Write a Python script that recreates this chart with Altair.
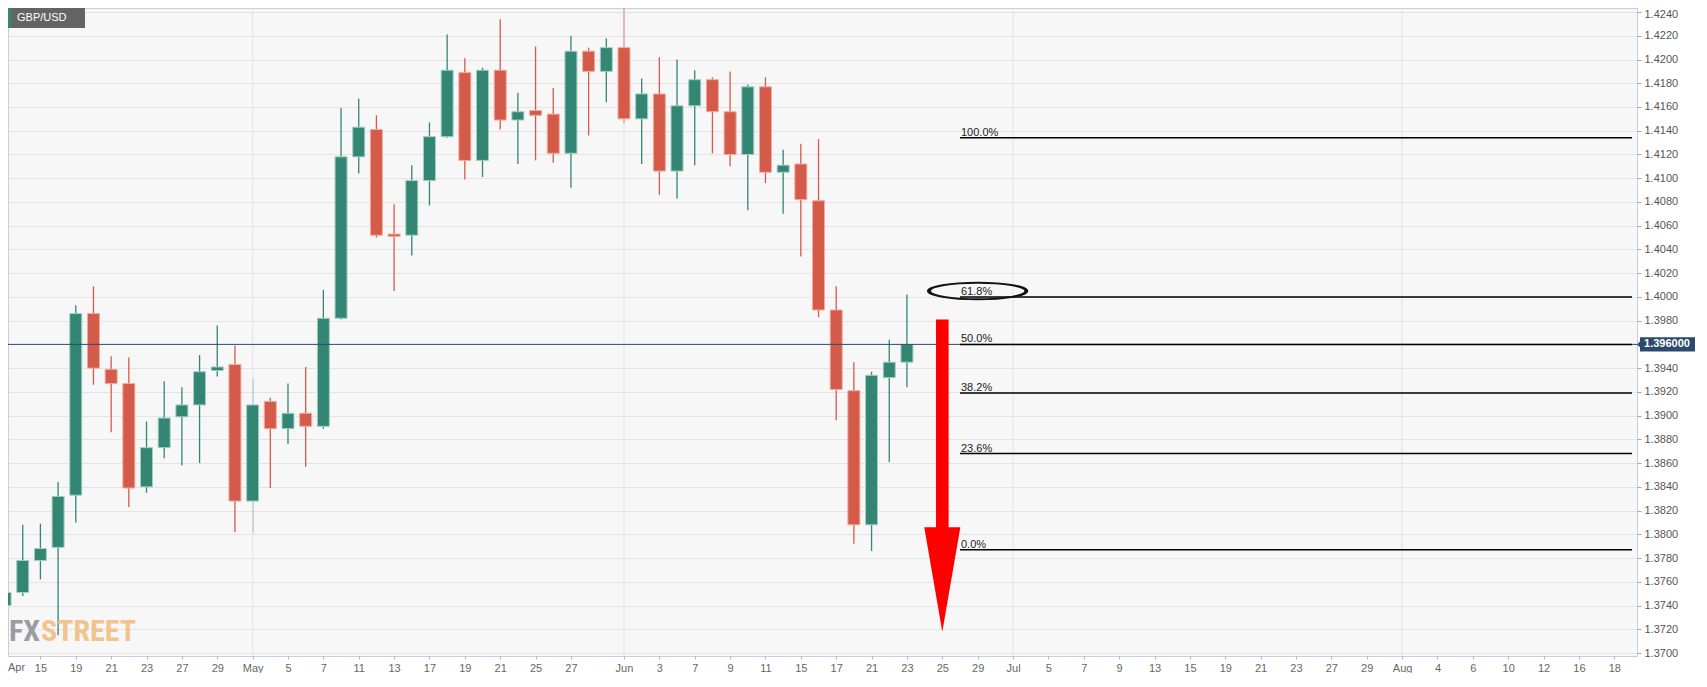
import altair as alt
import pandas as pd

# ---------------- data ----------------
day_idx = list(range(52))  # trading-day index, 0 = Apr 13
opens = [1.3740, 1.3751, 1.3778, 1.3789, 1.3833, 1.3986, 1.3939, 1.3927, 1.3840, 1.3873,
         1.3899, 1.3909, 1.3938, 1.3943, 1.3828, 1.3912, 1.3889, 1.3902, 1.3891, 1.3982,
         1.4118, 1.4141, 1.4053, 1.4052, 1.4098, 1.4135, 1.4189, 1.4115, 1.4191, 1.4149,
         1.4157, 1.4154, 1.4121, 1.4207, 1.4190, 1.4210, 1.4150, 1.4171, 1.4106, 1.4161,
         1.4183, 1.4156, 1.4120, 1.4177, 1.4105, 1.4112, 1.4081, 1.3989, 1.3921, 1.3808,
         1.3932, 1.3945]
highs = [1.3769, 1.3808, 1.3809, 1.3844, 1.3993, 1.4009, 1.3950, 1.3949, 1.3895, 1.3929,
         1.3924, 1.3951, 1.3976, 1.3959, 1.3931, 1.3915, 1.3927, 1.3941, 1.4006, 1.4159,
         1.4167, 1.4153, 1.4078, 1.4111, 1.4147, 1.4221, 1.4201, 1.4193, 1.4234, 1.4172,
         1.4211, 1.4176, 1.4220, 1.4210, 1.4218, 1.4249, 1.4184, 1.4202, 1.4200, 1.4191,
         1.4185, 1.4190, 1.4179, 1.4185, 1.4124, 1.4129, 1.4133, 1.4009, 1.3945, 1.3937,
         1.3964, 1.4002]
lows = [1.3690, 1.3748, 1.3762, 1.3715, 1.3810, 1.3926, 1.3886, 1.3823, 1.3835, 1.3864,
        1.3858, 1.3860, 1.3933, 1.3802, 1.3801, 1.3839, 1.3876, 1.3857, 1.3889, 1.3981,
        1.4104, 1.4050, 1.4005, 1.4035, 1.4077, 1.4134, 1.4099, 1.4101, 1.4141, 1.4112,
        1.4115, 1.4113, 1.4092, 1.4136, 1.4164, 1.4146, 1.4112, 1.4086, 1.4083, 1.4111,
        1.4121, 1.4110, 1.4073, 1.4096, 1.4070, 1.4034, 1.3983, 1.3896, 1.3792, 1.3786,
        1.3861, 1.3924]
closes = [1.3751, 1.3778, 1.3788, 1.3832, 1.3986, 1.3940, 1.3927, 1.3839, 1.3873, 1.3898,
          1.3909, 1.3937, 1.3941, 1.3828, 1.3909, 1.3889, 1.3902, 1.3891, 1.3982, 1.4118,
          1.4143, 1.4052, 1.4051, 1.4098, 1.4135, 1.4191, 1.4115, 1.4191, 1.4149, 1.4156,
          1.4153, 1.4121, 1.4207, 1.4190, 1.4210, 1.4150, 1.4171, 1.4106, 1.4161, 1.4183,
          1.4156, 1.4120, 1.4177, 1.4105, 1.4111, 1.4082, 1.3989, 1.3922, 1.3808, 1.3934,
          1.3945, 1.3960]

first_tick_label = "Apr"   # label of trading day 0 (at the left edge)
tick_idx = [2, 4, 6, 8, 10, 12, 14, 16, 18, 20, 22, 24, 26, 28, 30, 32, 35, 37, 39, 41, 43,
            45, 47, 49, 51, 53, 55, 57, 59, 61, 63, 65, 67, 69, 71, 73, 75, 77, 79, 81, 83, 85,
            87, 89, 91]
tick_lbl = ["15", "19", "21", "23", "27", "29", "May", "5", "7", "11", "13", "17", "19",
            "21", "25", "27", "Jun", "3", "7", "9", "11", "15", "17", "21", "23", "25", "29",
            "Jul", "5", "7", "9", "13", "15", "19", "21", "23", "27", "29", "Aug", "4", "6",
            "10", "12", "16", "18"]
month_idx = [14, 35, 57, 79]

ytick_vals = [1.3700, 1.3720, 1.3740, 1.3760, 1.3780, 1.3800, 1.3820, 1.3840, 1.3860, 1.3880,
              1.3900, 1.3920, 1.3940, 1.3980, 1.4000, 1.4020, 1.4040, 1.4060, 1.4080,
              1.4100, 1.4120, 1.4140, 1.4160, 1.4180, 1.4200, 1.4220, 1.4240]

fib_pcts = ["100.0%", "61.8%", "50.0%", "38.2%", "23.6%", "0.0%"]
fib_levels = [1.4134, 1.4000, 1.3960, 1.3919, 1.3868, 1.3787]
fib_start_idx = 54
fib_end_idx = 92

current_price = 1.3960
current_label = "1.396000"
ellipse_idx, ellipse_price = 55.0, 1.4005
arrow_idx, arrow_top, arrow_head_base, arrow_tip, arrow_half = 53, 1.3981, 1.3806, 1.3718, 1.02

# ---------------- styling ----------------
W, H = 1629, 648
GREEN, RED = "#338673", "#d45a49"
GREEN_EDGE, RED_EDGE = "#a3cfc2", "#f2ab9f"
NAVY = "#2c4a6e"
WM_FONT = "Roboto Condensed, DejaVu Sans Condensed, Liberation Sans Narrow, Arial Narrow, Liberation Sans"

xs = alt.Scale(domain=[0.45, 92.0], nice=False, zero=False)
ys = alt.Scale(domain=[1.36975, 1.42434], nice=False, zero=False)

label_expr = "".join(f"datum.value == {i} ? '{l}' : " for i, l in zip(tick_idx, tick_lbl)) + "''"

candles = pd.DataFrame({"idx": day_idx, "open": opens, "high": highs, "low": lows, "close": closes})
candles["dir"] = ["up" if c >= o else "down" for o, c in zip(opens, closes)]


def x_axis():
    return alt.Axis(values=tick_idx, labelExpr=label_expr, grid=False, domain=False, tickSize=3,
                    tickColor="#b4b4b4", labelColor="#666666", labelFontSize=11, labelPadding=3,
                    title=None)


def y_axis():
    return alt.Axis(orient="right", values=ytick_vals, format=".4f", grid=True, gridColor="#e4e4e4",
                    domain=False, tickSize=4, tickColor="#a8a8a8", labelColor="#555555",
                    labelFontSize=11, labelPadding=3, title=None,
                    labelOffset={"condition": {"test": "datum.value > 1.4235", "value": 2}, "value": 0})


def X(field):
    return alt.X(field, scale=xs, axis=x_axis())


def Y(field):
    return alt.Y(field, scale=ys, axis=y_axis())


dir_dom = ["up", "down"]

wicks = alt.Chart(candles).mark_rule(strokeWidth=1.3, clip=True).encode(
    x=X("idx:Q"), y=Y("low:Q"), y2="high:Q",
    color=alt.Color("dir:N", scale=alt.Scale(domain=dir_dom, range=[GREEN, RED]), legend=None))

mgrid = alt.Chart(pd.DataFrame({"idx": month_idx})).mark_rule(color="#e4e4e4", strokeWidth=1).encode(
    x=X("idx:Q"))

wm_fx = alt.Chart(pd.DataFrame({"t": ["FX"]})).mark_text(
    align="right", baseline="alphabetic", font=WM_FONT, fontSize=30,
    fontWeight="bold", color="#9b9ca2").encode(x=alt.value(32), y=alt.value(H - 15), text="t:N")
wm_st = alt.Chart(pd.DataFrame({"t": ["STREET"]})).mark_text(
    align="left", baseline="alphabetic", font=WM_FONT, fontSize=30,
    fontWeight="bold", color="#f1c38d").encode(x=alt.value(33), y=alt.value(H - 15), text="t:N")

bodies = alt.Chart(candles).mark_bar(size=12, strokeWidth=1, clip=True).encode(
    x=X("idx:Q"), y=Y("open:Q"), y2="close:Q",
    fill=alt.Fill("dir:N", scale=alt.Scale(domain=dir_dom, range=[GREEN, RED]), legend=None),
    stroke=alt.Stroke("dir:N", scale=alt.Scale(domain=dir_dom, range=[GREEN_EDGE, RED_EDGE]), legend=None))

cur = alt.Chart(pd.DataFrame({"p": [current_price]})).mark_rule(color=NAVY, strokeWidth=1).encode(
    y=Y("p:Q"))

fib = pd.DataFrame({"lbl": fib_pcts, "p": fib_levels,
                    "x0": [fib_start_idx] * len(fib_levels), "x1": [fib_end_idx] * len(fib_levels)})
fib_rules = alt.Chart(fib).mark_rule(color="#000000", strokeWidth=1.5).encode(
    x=X("x0:Q"), x2="x1:Q", y=Y("p:Q"))
fib_text = alt.Chart(fib).mark_text(align="left", baseline="alphabetic", dx=1, dy=-2, fontSize=11,
                                    color="#222222").encode(
    x=X("x0:Q"), y=Y("p:Q"), text="lbl:N")


def ellipse_path(rx, ry):
    k = 0.5523
    f = lambda v: f"{v:.4f}"
    return (f"M{f(-rx)},0 C{f(-rx)},{f(-k*ry)} {f(-k*rx)},{f(-ry)} 0,{f(-ry)} "
            f"C{f(k*rx)},{f(-ry)} {f(rx)},{f(-k*ry)} {f(rx)},0 "
            f"C{f(rx)},{f(k*ry)} {f(k*rx)},{f(ry)} 0,{f(ry)} "
            f"C{f(-k*rx)},{f(ry)} {f(-rx)},{f(k*ry)} {f(-rx)},0 Z")


ELLIPSE = " ".join([ellipse_path(1.0, 0.172), ellipse_path(0.975, 0.165), ellipse_path(0.95, 0.16)])
ell = alt.Chart(pd.DataFrame({"idx": [ellipse_idx], "p": [ellipse_price]})).mark_point(
    shape=ELLIPSE, size=10000, filled=False, color="#111111", strokeWidth=1.4, opacity=1).encode(
    x=X("idx:Q"), y=Y("p:Q"))

shaft = alt.Chart(pd.DataFrame({"idx": [arrow_idx], "p1": [arrow_top], "p2": [arrow_head_base - 0.0002]})).mark_rule(
    color="#ff0000", strokeWidth=12.6, strokeCap="butt").encode(
    x=X("idx:Q"), y=Y("p1:Q"), y2="p2:Q")
head_df = pd.DataFrame({"idx": [arrow_idx - arrow_half, arrow_idx, arrow_idx + arrow_half],
                        "top": [arrow_head_base] * 3,
                        "bot": [arrow_head_base, arrow_tip, arrow_head_base]})
head = alt.Chart(head_df).mark_area(color="#ff0000", opacity=1).encode(
    x=X("idx:Q"), y=Y("top:Q"), y2="bot:Q")

TAG = "M-0.897,-0.248 L1,-0.248 L1,0.248 L-0.897,0.248 L-0.897,0.1 L-1,0 L-0.897,-0.1 Z"
tag_df = pd.DataFrame({"p": [current_price], "t": [current_label]})
tag_box = alt.Chart(tag_df).mark_point(shape=TAG, size=58 * 58, filled=True, color=NAVY,
                                       opacity=1, strokeWidth=0).encode(
    x=alt.value(W + 29), y=Y("p:Q"))
tag_txt = alt.Chart(tag_df).mark_text(fontSize=11, fontWeight="bold", color="white", align="center",
                                      baseline="middle").encode(
    x=alt.value(W + 30), y=Y("p:Q"), text="t:N")

first_lbl = alt.Chart(pd.DataFrame({"t": [first_tick_label]})).mark_text(
    align="left", baseline="top", fontSize=11, color="#666666").encode(
    x=alt.value(0), y=alt.value(H + 6), text="t:N")

one = pd.DataFrame({"t": ["GBP/USD"]})
box = alt.Chart(one).mark_rect(color="#646464").encode(
    x=alt.value(0), x2=alt.value(77), y=alt.value(0), y2=alt.value(20))
stripe = alt.Chart(one).mark_rect(color="#2e8a72").encode(
    x=alt.value(0), x2=alt.value(3), y=alt.value(0), y2=alt.value(20))
btxt = alt.Chart(one).mark_text(align="left", baseline="middle", fontSize=11, color="white").encode(
    x=alt.value(9), y=alt.value(10), text="t:N")

chart = alt.layer(
    wicks, mgrid, wm_fx, wm_st, bodies, cur, fib_rules, fib_text, ell, shaft, head,
    tag_box, tag_txt, first_lbl, box, stripe, btxt
).properties(
    width=W, height=H,
    autosize=alt.AutoSizeParams(type="none"),
    padding={"left": 0, "top": 0, "right": 62, "bottom": 17},
    background="white",
).configure(font="Liberation Sans").configure_view(fill="#f7f7f7", stroke="#c5cce4", strokeWidth=1)

chart.save("out.html", embed_options={"renderer": "svg", "actions": False})
